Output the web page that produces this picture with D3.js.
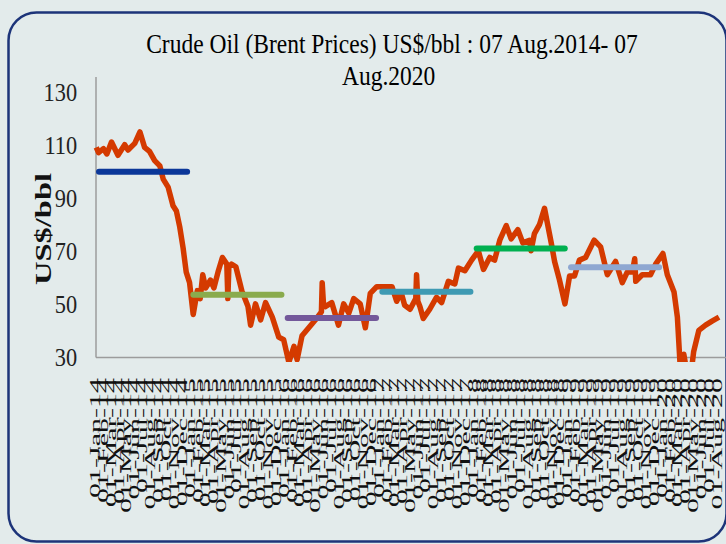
<!DOCTYPE html>
<html>
<head>
<meta charset="utf-8">
<script src="https://cdn.jsdelivr.net/npm/d3@7"></script>
<style>
  html, body { margin: 0; padding: 0; background: #e3ebeb; }
  svg { display: block; }
</style>
</head>
<body>
<svg></svg>
<script>
// Brent daily price (US$/bbl)
const priceDates = [
  '2014-01-02','2014-01-11','2014-01-30','2014-02-12','2014-03-02','2014-03-27','2014-04-22','2014-05-05',
  '2014-05-31','2014-06-20','2014-07-08','2014-07-27','2014-08-16','2014-09-05','2014-09-18','2014-10-07',
  '2014-10-26','2014-11-08','2014-11-21','2014-12-04','2014-12-16','2014-12-29','2015-01-12','2015-01-28',
  '2015-02-08','2015-02-18','2015-03-01','2015-03-20','2015-04-02','2015-04-18','2015-05-05','2015-05-22',
  '2015-05-26','2015-05-30','2015-06-09','2015-06-26','2015-07-19','2015-08-12','2015-08-22','2015-09-10',
  '2015-09-30','2015-10-19','2015-11-14','2015-12-09','2015-12-28','2016-01-17','2016-02-06','2016-02-18',
  '2016-03-08','2016-04-03','2016-04-29','2016-05-22','2016-05-25','2016-05-30','2016-06-06','2016-07-01',
  '2016-07-27','2016-08-16','2016-09-05','2016-09-24','2016-10-19','2016-11-08','2016-11-27','2016-12-22',
  '2017-01-24','2017-02-19','2017-03-09','2017-03-26','2017-04-09','2017-04-30','2017-05-22','2017-05-25',
  '2017-05-30','2017-06-07','2017-06-20','2017-07-15','2017-08-10','2017-08-30','2017-09-25','2017-10-20',
  '2017-11-03','2017-11-28','2017-12-24','2018-01-19','2018-02-08','2018-03-04','2018-03-23','2018-04-12',
  '2018-05-07','2018-05-26','2018-06-21','2018-07-10','2018-08-05','2018-08-11','2018-08-24','2018-09-13',
  '2018-10-02','2018-10-15','2018-10-28','2018-11-10','2018-11-29','2018-12-20','2019-01-07','2019-01-26',
  '2019-02-14','2019-03-10','2019-04-12','2019-05-07','2019-06-02','2019-07-04','2019-07-30','2019-08-18',
  '2019-09-07','2019-09-16','2019-09-20','2019-10-15','2019-11-16','2019-12-06','2020-01-03','2020-01-20',
  '2020-02-15','2020-02-28','2020-03-09','2020-03-24','2020-04-12','2020-04-21','2020-05-01','2020-05-21',
  '2020-06-16','2020-07-11','2020-08-07'
];
const brentPrices = [
  109, 107, 108.5, 106.5, 111, 106, 110, 108,
  110.5, 114.8, 109, 107.5, 104, 102, 97, 94,
  87, 85, 79, 71, 62, 58, 46, 55,
  52, 61, 56, 59, 56, 62, 67.5, 65,
  52, 64, 65, 64, 55, 49, 42, 50,
  44, 50.5, 45, 37.5, 36.5, 28, 34, 29,
  38, 41, 44, 47, 58, 50, 49, 50.5,
  42, 50, 46.5, 52, 50, 41, 54, 56.5,
  56.5, 56.5, 51, 54.5, 49.5, 48, 52, 61,
  51, 49, 44.5, 48, 52.5, 50.5, 58.5, 57.5,
  63.5, 62.5, 66.5, 70, 63, 67.5, 66.5, 74,
  79.5, 74.5, 78, 73, 74, 70, 76.5, 80,
  86, 79.5, 73, 66, 59, 50, 60.5, 60.5,
  66.5, 67.5, 74, 71.5, 61, 66, 58, 62,
  62, 67, 58.5, 61, 61, 65, 69, 61,
  54.5, 45, 28, 31, 20, 24, 32, 40,
  42, 43.5, 45
];

// yearly averages
const avgYears = [2014, 2015, 2016, 2017, 2018, 2019];
const avgValues = [99.8, 53.5, 44.7, 54.6, 70.9, 63.8];
const avgColors = ['#0b3799', '#8aab4d', '#73589a', '#3f9ab3', '#00b050', '#8ea7d1'];

const yTicks = [30, 50, 70, 90, 110, 130];
const xTickFormat = '%d-%b-%y';

const width = 726;
const height = 544;
const serif = '"Liberation Serif", "DejaVu Serif", serif';

const svg = d3.select('svg')
  .attr('width', width)
  .attr('height', height);

// rounded frame
svg.append('rect')
  .attr('x', 8.5)
  .attr('y', 12.5)
  .attr('width', 718)
  .attr('height', 529)
  .attr('rx', 28)
  .attr('fill', '#e3ebeb')
  .attr('stroke', '#1d3479')
  .attr('stroke-width', 2.5);

const x = d3.scaleTime()
  .domain([new Date(2014, 0, 1), new Date(2020, 7, 7)])
  .range([96, 719]);

const y = d3.scaleLinear()
  .domain([30, 135.5])
  .range([357, 77]);

// title, squeezed sideways like the original
const title = svg.append('g')
  .attr('transform', 'translate(392,0) scale(0.84,1)')
  .attr('font-family', serif)
  .attr('font-size', 28)
  .attr('text-anchor', 'middle')
  .attr('fill', '#000');

title.append('text')
  .attr('x', 0)
  .attr('y', 53)
  .text('Crude Oil (Brent Prices) US$/bbl : 07 Aug.2014- 07');

title.append('text')
  .attr('x', -4)
  .attr('y', 85)
  .text('Aug.2020');

// y axis
const yAxis = svg.append('g')
  .attr('transform', 'translate(96,0)')
  .call(d3.axisLeft(y).tickValues(yTicks).tickSize(0).tickPadding(0));

yAxis.select('.domain').remove();
yAxis.selectAll('text')
  .attr('font-family', serif)
  .attr('font-size', 26)
  .attr('fill', '#222')
  .attr('x', -22)
  .attr('dy', '0.33em')
  .attr('transform', 'scale(0.86,1)');

svg.append('text')
  .attr('transform', 'translate(51,229) rotate(-90)')
  .attr('text-anchor', 'middle')
  .attr('font-family', serif)
  .attr('font-size', 24)
  .attr('font-weight', 'bold')
  .attr('textLength', 112)
  .attr('lengthAdjust', 'spacingAndGlyphs')
  .attr('fill', '#111')
  .text('US$/bbl');

// x axis labels, monthly, rotated
const xAxis = svg.append('g')
  .attr('transform', 'translate(0,357)')
  .call(d3.axisBottom(x)
    .ticks(d3.timeMonth.every(1))
    .tickFormat(d3.timeFormat(xTickFormat))
    .tickSize(0));

xAxis.select('.domain').remove();
xAxis.selectAll('text')
  .attr('font-family', serif)
  .attr('font-size', 30)
  .attr('fill', '#111')
  .attr('text-anchor', 'end')
  .attr('x', -21)
  .attr('y', 0)
  .attr('dy', '0.25em')
  .attr('transform', 'scale(0.5,1) rotate(-90)');

// axis lines
svg.append('line')
  .attr('x1', 96).attr('x2', 96)
  .attr('y1', 77).attr('y2', 357.5)
  .attr('stroke', '#9c9c9c')
  .attr('stroke-width', 1.5);

svg.append('line')
  .attr('x1', 96).attr('x2', 726)
  .attr('y1', 357.5).attr('y2', 357.5)
  .attr('stroke', '#9c9c9c')
  .attr('stroke-width', 1.5);

// price line
svg.append('clipPath')
  .attr('id', 'plot')
  .append('rect')
  .attr('x', 93)
  .attr('y', 60)
  .attr('width', 640)
  .attr('height', 302);

const prices = priceDates.map((d, i) => ({ date: d3.isoParse(d), value: brentPrices[i] }));

const line = d3.line()
  .x(d => x(d.date))
  .y(d => y(d.value));

svg.append('path')
  .datum(prices)
  .attr('clip-path', 'url(#plot)')
  .attr('fill', 'none')
  .attr('stroke', '#d43a00')
  .attr('stroke-width', 5.5)
  .attr('stroke-linejoin', 'round')
  .attr('d', line);

// yearly average bars
svg.append('g')
  .selectAll('line')
  .data(avgYears)
  .enter()
  .append('line')
  .attr('x1', d => x(new Date(d, 0, 1)) + 3)
  .attr('x2', d => x(new Date(d, 11, 31)) - 3)
  .attr('y1', (d, i) => y(avgValues[i]))
  .attr('y2', (d, i) => y(avgValues[i]))
  .attr('stroke', (d, i) => avgColors[i])
  .attr('stroke-width', 6)
  .attr('stroke-linecap', 'round');
</script>
</body>
</html>
